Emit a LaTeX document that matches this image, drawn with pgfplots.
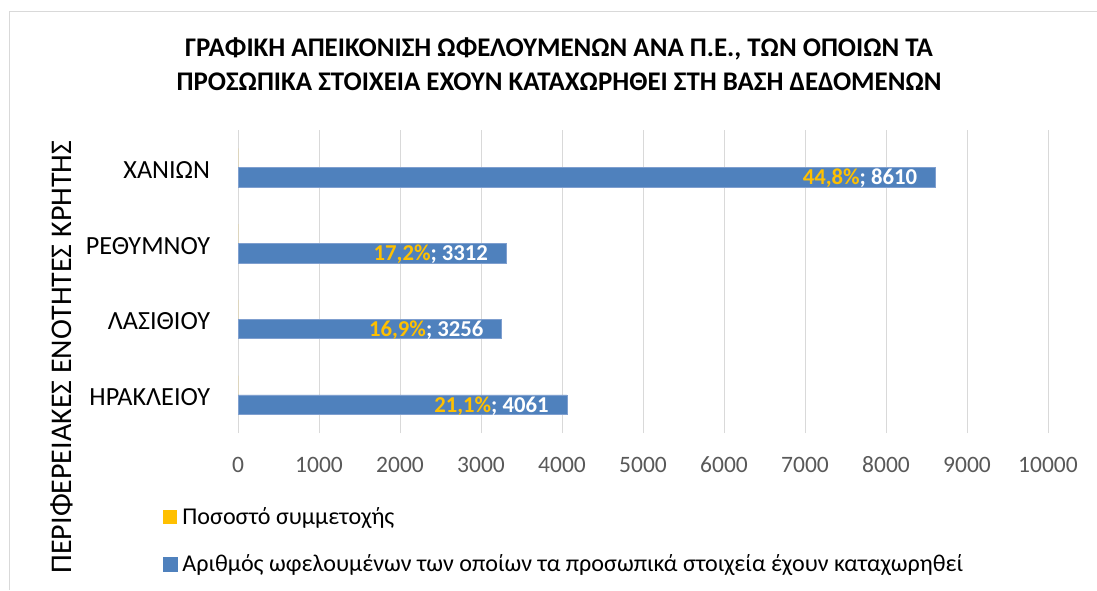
\documentclass[border=0pt]{standalone}
\usepackage{fontspec}
\setmainfont{Carlito}
\usepackage{pgfplots}
\usepackage{pgfplotstable}
\pgfplotsset{compat=1.18}
\definecolor{barblue}{HTML}{4F81BD}
\definecolor{baredge}{HTML}{7F9FCF}
\definecolor{pctyellow}{HTML}{FFC000}
\definecolor{gridgray}{HTML}{D9D9D9}
\definecolor{tickgray}{HTML}{595959}
\definecolor{framegray}{HTML}{D9D9D9}
\pgfplotstableread{
x y pct
4061 0 21.1
3256 1 16.9
3312 2 17.2
8610 3 44.8
}\countdata
\pgfplotstableread{
x y
0.211 0
0.169 1
0.172 2
0.448 3
}\pctdata
\begin{document}
\begin{tikzpicture}[x=1pt,y=1pt]
\useasboundingbox (0,0) rectangle (1097,-590);
\fill[white] (0,0) rectangle (1097,-590);
\draw[framegray, line width=1pt] (9.5,-590) -- (9.5,-11.7) -- (1097,-11.7);
\node[anchor=base, inner sep=0pt, font=\fontsize{26.9}{32}\selectfont\bfseries] at (559,-56.7) {ΓΡΑΦΙΚΗ ΑΠΕΙΚΟΝΙΣΗ ΩΦΕΛΟΎΜΕΝΩΝ ΑΝΑ Π.Ε., ΤΩΝ ΟΠΟΙΩΝ ΤΑ};
\node[anchor=base, inner sep=0pt, font=\fontsize{26.9}{32}\selectfont\bfseries] at (559,-90) {ΠΡΟΣΩΠΙΚΑ ΣΤΟΙΧΕΙΑ ΕΧΟΥΝ ΚΑΤΑΧΩΡΗΘΕΙ ΣΤΗ ΒΑΣΗ ΔΕΔΟΜΕΝΩΝ};
\node[rotate=90, anchor=base, inner sep=0pt, font=\fontsize{30}{36}\selectfont] at (71,-357) {ΠΕΡΙΦΕΡΕΙΑΚΕΣ ΕΝΟΤΗΤΕΣ ΚΡΗΤΗΣ};
\begin{axis}[
  at={(238pt,-433pt)}, anchor=south west,
  scale only axis, width=810pt, height=303pt,
  xmin=0, xmax=10000, ymin=-0.5, ymax=3.5,
  xbar, bar width=19.6pt,
  axis line style={draw=none}, tick style={draw=none},
  xmajorgrids, grid style={gridgray, line width=1pt},
  xtick={0,1000,...,10000},
  scaled x ticks=false,
  ytick={0,1,2,3},
  yticklabels={ΗΡΑΚΛΕΙΟΥ,ΛΑΣΙΘΙΟΥ,ΡΕΘΥΜΝΟΥ,ΧΑΝΙΩΝ},
  xticklabel style={font=\fontsize{23.5}{28}\selectfont, text=tickgray, anchor=base, yshift=-39.7pt, inner sep=0pt},
  yticklabel style={font=\fontsize{26.2}{31}\selectfont, text=black, anchor=east, inner sep=0pt, xshift=-23.5pt, yshift=-2pt},
  /pgf/number format/assume math mode=true,
  /pgf/number format/1000 sep={},
  legend style={at={(-0.093,-0.2475)}, anchor=north west, draw=none, fill=none, inner sep=0pt,
    row sep=26pt, font=\fontsize{24.1}{29}\selectfont,
    nodes={inner sep=0pt, text height=16pt, text depth=5pt},
    /tikz/every odd column/.append style={column sep=5pt}},
  legend cell align=left,
]
\addplot[fill=pctyellow, draw=none, bar shift=9.6pt,
  legend image code/.code={\fill[pctyellow] (0pt,-5.7pt) rectangle (14pt,8.3pt);}]
  table[x=x, y=y] {\pctdata};
\addlegendentry{Ποσοστό συμμετοχής}
\addplot[fill=barblue, draw=baredge, line width=0.6pt, bar shift=-9.6pt,
  legend image code/.code={\fill[barblue] (0pt,-5.7pt) rectangle (14pt,8.3pt);},
  visualization depends on={\thisrow{pct} \as \pctval},
  point meta=x,
  nodes near coords={\textcolor{pctyellow}{\pgfmathprintnumber[fixed, fixed zerofill, precision=1, use comma]{\pctval}\%}; \pgfmathprintnumber[int detect, 1000 sep={}]{\pgfplotspointmeta}},
  every node near coord/.append style={anchor=base east, xshift=-18pt, yshift=-7.5pt, inner sep=0pt,
    font=\fontsize{22.7}{27}\selectfont\bfseries, text=white}]
  table[x=x, y=y] {\countdata};
\addlegendentry{Αριθμός ωφελουμένων των οποίων τα προσωπικά στοιχεία έχουν καταχωρηθεί}
\end{axis}
\end{tikzpicture}
\end{document}
